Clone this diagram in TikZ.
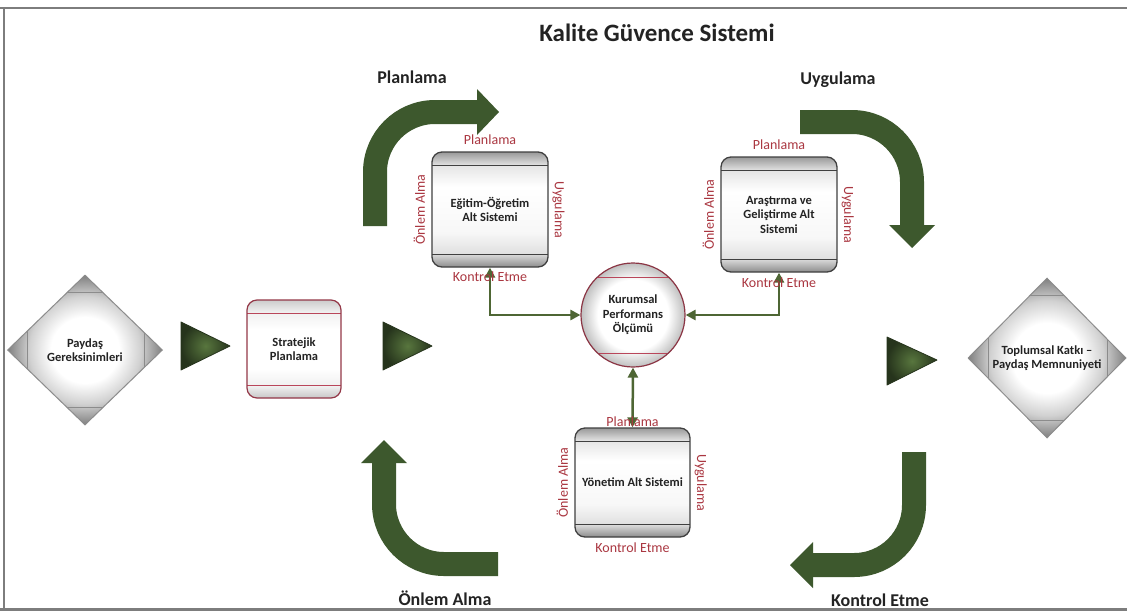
\documentclass[tikz,border=0pt]{standalone}
\usepackage{fontspec}
\setmainfont{Carlito}
\usetikzlibrary{shapes.geometric,arrows.meta}
\definecolor{dg}{RGB}{61,88,45}
\definecolor{cg}{RGB}{78,102,52}
\definecolor{lr}{RGB}{170,55,65}
\definecolor{pk}{RGB}{185,70,90}
\definecolor{fr}{RGB}{125,125,125}
\definecolor{tx}{RGB}{35,35,35}
\definecolor{trin}{RGB}{88,118,62}
\definecolor{trout}{RGB}{38,52,28}
\pgfdeclareverticalshading{boxshade}{100bp}{color(0bp)=(black!45); color(25bp)=(black!45); color(31bp)=(black!12); color(40bp)=(black!3); color(60bp)=(white); color(69bp)=(black!10); color(75bp)=(black!40); color(100bp)=(black!40)}
\pgfdeclareverticalshading{strshade}{100bp}{color(0bp)=(black!22); color(25bp)=(black!22); color(31bp)=(black!6); color(40bp)=(white); color(60bp)=(white); color(69bp)=(black!6); color(75bp)=(black!20); color(100bp)=(black!20)}
\pgfdeclareradialshading{diamshade}{\pgfpoint{0bp}{0bp}}{color(0bp)=(white); color(11bp)=(white); color(18bp)=(black!18); color(25bp)=(black!50); color(50bp)=(black!50)}
\pgfdeclareradialshading{circshade}{\pgfpoint{0bp}{0bp}}{color(0bp)=(white); color(17bp)=(white); color(25bp)=(black!25); color(50bp)=(black!25)}
\begin{document}
\begin{tikzpicture}[x=1pt,y=-1pt,
  nfont/.style={font=\fontsize{12.5}{14.5}\selectfont\bfseries, text=tx},
  subbox/.style={draw=black!75, line width=1.3pt, rounded corners=10pt,
    shading=boxshade, nfont,
    minimum width=116pt, minimum height=115pt, align=center, inner sep=2pt,
    path picture={
      \draw[black!75,line width=1pt] ([yshift=-13pt]path picture bounding box.north west) -- ([yshift=-13pt]path picture bounding box.north east);
      \draw[black!75,line width=1pt] ([yshift=13pt]path picture bounding box.south west) -- ([yshift=13pt]path picture bounding box.south east);}},
  stratbox/.style={draw=pk!80!black, line width=1.2pt, rounded corners=10pt,
    shading=strshade, nfont,
    minimum width=94pt, minimum height=98pt, align=center, inner sep=2pt,
    path picture={
      \draw[pk,line width=0.8pt] ([yshift=-13pt]path picture bounding box.north west) -- ([yshift=-13pt]path picture bounding box.north east);
      \draw[pk,line width=0.8pt] ([yshift=13pt]path picture bounding box.south west) -- ([yshift=13pt]path picture bounding box.south east);}},
  diam/.style={diamond, draw=black!45, line width=1pt, aspect=1,
    shading=diamshade, align=center, nfont, inner sep=0pt,
    path picture={
      \draw[black!45,line width=0.8pt] ([yshift=-17pt]path picture bounding box.north west) -- ([yshift=-17pt]path picture bounding box.north east);
      \draw[black!45,line width=0.8pt] ([yshift=17pt]path picture bounding box.south west) -- ([yshift=17pt]path picture bounding box.south east);
      \draw[black!45,line width=0.8pt] ([xshift=20pt]path picture bounding box.north west) -- ([xshift=20pt]path picture bounding box.south west);
      \draw[black!45,line width=0.8pt] ([xshift=-18pt]path picture bounding box.north east) -- ([xshift=-18pt]path picture bounding box.south east);}},
  kcircle/.style={circle, draw=pk!75!black, line width=1.2pt, minimum size=104pt,
    shading=circshade, align=center, nfont, inner sep=0pt,
    path picture={
      \draw[pk,line width=0.8pt] ([xshift=-60pt,yshift=38pt]path picture bounding box.center) -- ([xshift=60pt,yshift=38pt]path picture bounding box.center);
      \draw[pk,line width=0.8pt] ([xshift=-60pt,yshift=-38pt]path picture bounding box.center) -- ([xshift=60pt,yshift=-38pt]path picture bounding box.center);}},
  lbl/.style={text=lr, font=\fontsize{14}{16}\selectfont, inner sep=0pt},
  head/.style={text=tx, font=\fontsize{18}{21}\selectfont\bfseries, inner sep=0pt},
  conn/.style={cg, line width=2.5pt, {Triangle[length=10pt,width=10pt]}-{Triangle[length=10pt,width=10pt]}},
  bigarrow/.style={dg, line width=24pt, rounded corners=60pt},
  tri/.style={inner color=trin, outer color=trout, draw=trout, line width=0.8pt, line join=round}
]
\useasboundingbox (0,0) rectangle (1127,614);
\fill[white] (0,0) rectangle (1127,614);
% frame
\draw[fr, line width=2.5pt] (0,8) -- (1127,8);
\draw[fr, line width=2pt] (4,8) -- (4,608);
\draw[fr, line width=3pt] (0,609) -- (1127,609);

% title and stage labels
\node[text=tx, font=\fontsize{25}{29}\selectfont\bfseries] (title) at (657,33) {Kalite Güvence Sistemi};
\node[head] (hplan) at (412,77) {Planlama};
\node[head] (huyg) at (838,80) {Uygulama};
\node[head] (honl) at (445,598) {Önlem Alma};
\node[head] (hkon) at (880,600) {Kontrol Etme};

% big curved arrows
\draw[bigarrow] (375,226) -- (375,112) -- (480,112);
\fill[dg] (477,89) -- (499,112) -- (477,135) -- cycle;
\draw[bigarrow] (800,122) -- (912,122) -- (912,227);
\fill[dg] (889,225) -- (912,248) -- (935,225) -- cycle;
\draw[bigarrow] (498,564) -- (384,564) -- (384,461);
\fill[dg] (361,463) -- (384,440) -- (407,463) -- cycle;
\draw[bigarrow] (914,452) -- (914,565) -- (811,565);
\fill[dg] (813,542) -- (790,565) -- (813,588) -- cycle;

% nodes
\node[diam, minimum width=155pt, minimum height=150pt] (pay) at (85,350) {Paydaş\\Gereksinimleri};
\node[stratbox] (str) at (294,349) {Stratejik\\Planlama};
\node[subbox] (egt) at (490,209.5) {Eğitim-Öğretim\\Alt Sistemi};
\node[subbox] (arg) at (779,214.5) {Araştırma ve\\Geliştirme Alt\\Sistemi};
\node[subbox, minimum width=115pt, minimum height=109pt] (yon) at (632.5,482.5) {Yönetim Alt Sistemi};
\node[kcircle] (kpo) at (633,315) {Kurumsal\\Performans\\Ölçümü};
\node[diam, minimum width=158pt, minimum height=160pt] (top) at (1047,358) {Toplumsal Katkı –\\Paydaş Memnuniyeti};

% flow triangles
\draw[tri] (181,322) -- (230,346) -- (181,370) -- cycle;
\draw[tri] (383,322) -- (432,346) -- (383,370) -- cycle;
\draw[tri] (887,337) -- (937,360) -- (887,385) -- cycle;

% connectors
\draw[conn] (egt.south) |- (kpo.west);
\draw[conn] (arg.south) |- (kpo.east);
\draw[conn] (kpo.south) -- (yon.north);

% red labels
\foreach \b/\ya/\yb in {egt/12/9, arg/12/10, yon/6/10}{
  \node[lbl] at ([yshift=\ya pt]\b.north) {Planlama};
  \node[lbl] at ([yshift=-\yb pt]\b.south) {Kontrol Etme};
  \node[lbl, rotate=90] at ([xshift=-12pt]\b.west) {Önlem Alma};
  \node[lbl, rotate=-90] at ([xshift=10pt]\b.east) {Uygulama};
}
\end{tikzpicture}
\end{document}
